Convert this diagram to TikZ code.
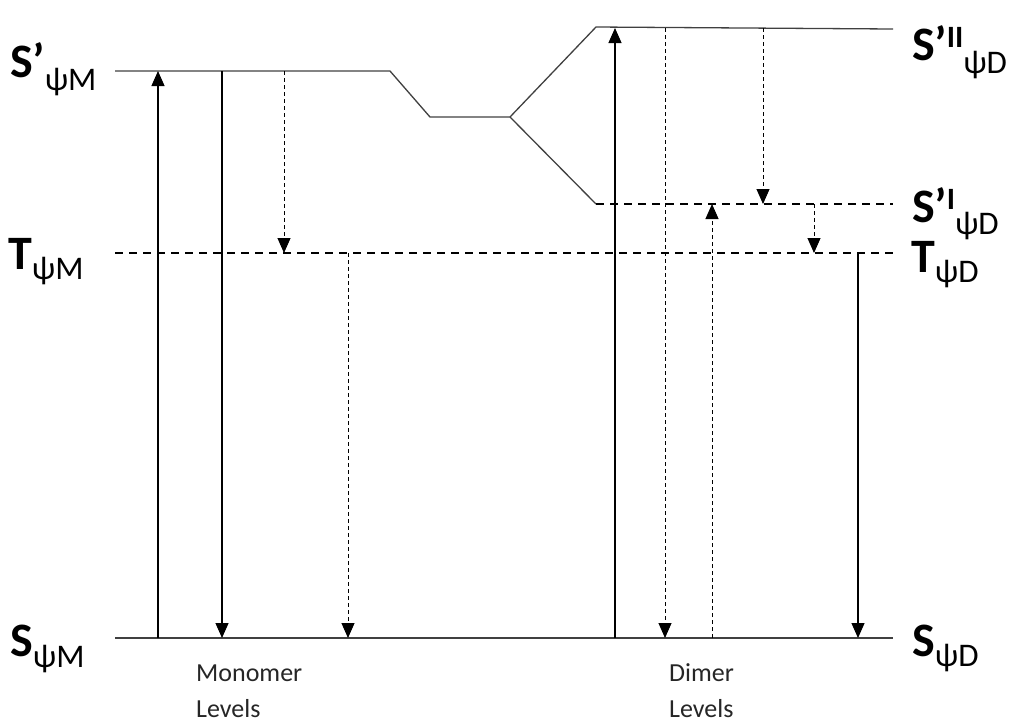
\documentclass[tikz,border=0pt]{standalone}
\usepackage{fontspec}
\setmainfont{Carlito}
\usetikzlibrary{arrows.meta}
% main letter, superscript part, subscript part, subscript drop
\newcommand{\elab}[4]{{\fontsize{48}{48}\selectfont\bfseries #1}{\raisebox{13pt}{\fontsize{31}{31}\selectfont\bfseries #2}}\raisebox{-#4pt}{\fontsize{33}{33}\selectfont #3}}
\begin{document}
\begin{tikzpicture}[x=1pt,y=-1pt,
  level/.style={line width=1.3pt, draw=black!75},
  dlevel/.style={line width=2pt, dash pattern=on 8pt off 6pt},
  solidarrow/.style={line width=1.2pt,-{Triangle[width=13pt,length=15pt]}},
  dasharrow/.style={line width=1pt,dash pattern=on 4pt off 3pt,-{Triangle[width=13pt,length=15pt]}},
  lab/.style={anchor=base west, inner sep=0pt},
  small/.style={anchor=base west, inner sep=0pt, text=black!85, font=\fontsize{26}{26}\selectfont},
]
\useasboundingbox (0,0) rectangle (1011,724);
% level coordinates
\coordinate (spL) at (115,71);
\coordinate (spR) at (390,71);
\coordinate (m1) at (430,117);
\coordinate (m2) at (510,117);
\coordinate (s2L) at (596,27);
\coordinate (s2R) at (893,29);
\coordinate (s1L) at (596,204);
\coordinate (s1R) at (893,204);
\coordinate (tL) at (115,253);
\coordinate (tR) at (893,253);
\coordinate (gL) at (115,638);
\coordinate (gR) at (893,638);
% levels
\draw[level] (spL) -- (spR) -- (m1) -- (m2) -- (s2L) -- (s2R);
\draw[level] (m2) -- (s1L);
\draw[dlevel] (s1L) -- (s1R);
\draw[dlevel] (tL) -- (tR);
\draw[level] (gL) -- (gR);
% arrow endpoints
\coordinate (a1b) at (158,638); \coordinate (a1t) at (158,71);
\coordinate (a2b) at (222,638); \coordinate (a2t) at (222,71);
\coordinate (a3b) at (284,253); \coordinate (a3t) at (284,71);
\coordinate (a4b) at (348,638); \coordinate (a4t) at (348,253);
\coordinate (b1b) at (615,638); \coordinate (b1t) at (615,28);
\coordinate (b2b) at (665,638); \coordinate (b2t) at (665,28);
\coordinate (b3b) at (712,638); \coordinate (b3t) at (712,204);
\coordinate (b4b) at (763,204); \coordinate (b4t) at (763,28);
\coordinate (b5b) at (814,253); \coordinate (b5t) at (814,204);
\coordinate (b6b) at (858,638); \coordinate (b6t) at (858,253);
% arrows
\draw[solidarrow] (a1b) -- (a1t);
\draw[solidarrow] (a2t) -- (a2b);
\draw[dasharrow] (a3t) -- (a3b);
\draw[dasharrow] (a4t) -- (a4b);
\draw[solidarrow] (b1b) -- (b1t);
\draw[dasharrow] (b2t) -- (b2b);
\draw[dasharrow] (b3b) -- (b3t);
\draw[dasharrow] (b4t) -- (b4b);
\draw[dasharrow] (b5t) -- (b5b);
\draw[solidarrow] (b6t) -- (b6b);
% labels
\node[lab] (lsp) at (10,77) {\elab{S’}{}{ψM}{13}};
\node[lab] (lt) at (8,269) {\elab{T}{}{ψM}{10}};
\node[lab] (ls) at (10,656) {\elab{S}{}{ψM}{11}};
\node[lab] (ls2) at (912,60) {\elab{S’}{II}{ψD}{13}};
\node[lab] (ls1) at (912,222) {\elab{S’}{I}{ψD}{12}};
\node[lab] (ltd) at (911,272) {\elab{T}{}{ψD}{10}};
\node[lab] (lsd) at (912,656) {\elab{S}{}{ψD}{10}};
\node[small] (mon) at (196,681) {Monomer};
\node[small] (monl) at (196,717) {Levels};
\node[small] (dim) at (669,681) {Dimer};
\node[small] (diml) at (669,717) {Levels};
\end{tikzpicture}
\end{document}
